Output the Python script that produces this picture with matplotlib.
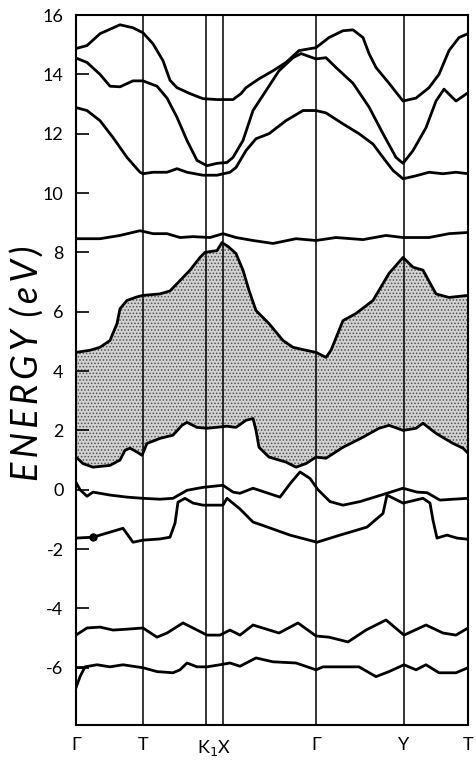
import matplotlib
matplotlib.use("Agg")
import matplotlib.pyplot as plt
import numpy as np

plt.rcParams['font.family'] = ['Lato', 'DejaVu Sans']
plt.rcParams['hatch.linewidth'] = 0.7

# high symmetry points along the k path (arbitrary path units)
kpts = [0, 67, 130, 147, 240, 328, 392]

# bands: (k, E in eV)
band_a = [(0, 14.87), (11, 14.97), (24, 15.37), (44, 15.67), (57, 15.57), (67, 15.4),
          (77, 15.03), (87, 14.46), (94, 13.8), (101, 13.55), (114, 13.35), (127, 13.18),
          (141, 13.15), (157, 13.15), (165, 13.35), (170, 13.55), (183, 13.85), (197, 14.12),
          (210, 14.4), (223, 14.8), (240, 14.9), (253, 15.24), (267, 15.47), (277, 15.5),
          (287, 15.24), (293, 14.7), (300, 14.23), (313, 13.7), (327, 13.1), (340, 13.2),
          (353, 13.55), (363, 14.0), (373, 14.8), (383, 15.24), (392, 15.37)]
band_b = [(0, 14.55), (11, 14.4), (24, 14.0), (34, 13.6), (44, 13.58), (57, 13.78),
          (67, 13.78), (81, 13.6), (91, 13.2), (101, 12.55), (111, 11.77), (121, 11.1),
          (131, 10.92), (141, 11.0), (151, 11.03), (157, 11.2), (167, 11.77), (177, 12.78),
          (190, 13.45), (203, 14.12), (217, 14.56), (225, 14.7), (240, 14.52), (250, 14.56),
          (260, 14.23), (277, 13.7), (293, 12.9), (307, 12.0), (320, 11.2), (327, 11.0),
          (337, 11.43), (350, 12.2), (360, 13.1), (368, 13.5), (380, 13.1), (392, 13.38)]
band_c = [(0, 12.88), (11, 12.78), (24, 12.44), (37, 11.87), (51, 11.2), (64, 10.7),
          (67, 10.65), (77, 10.7), (91, 10.7), (101, 10.82), (111, 10.7), (127, 10.6),
          (141, 10.6), (154, 10.7), (160, 10.86), (170, 11.43), (180, 11.83), (193, 12.0),
          (210, 12.44), (227, 12.78), (240, 12.78), (250, 12.7), (267, 12.33), (283, 12.0),
          (297, 11.65), (307, 11.2), (317, 10.76), (327, 10.48), (340, 10.58), (353, 10.7),
          (367, 10.65), (380, 10.7), (392, 10.65)]
band_d = [(0, 8.46), (24, 8.46), (44, 8.57), (64, 8.73), (77, 8.63), (91, 8.63),
          (104, 8.5), (117, 8.53), (134, 8.5), (147, 8.63), (160, 8.5), (177, 8.4),
          (197, 8.3), (220, 8.46), (240, 8.4), (260, 8.5), (287, 8.43), (310, 8.57),
          (327, 8.5), (353, 8.5), (373, 8.63), (392, 8.67)]
band_e = [(0, 4.63), (14, 4.7), (24, 4.8), (34, 5.03), (41, 5.6), (44, 6.1), (51, 6.38),
          (61, 6.5), (67, 6.55), (84, 6.6), (94, 6.7), (104, 7.05), (114, 7.4), (124, 7.83),
          (129, 8.0), (141, 8.06), (146, 8.33), (152, 8.2), (160, 7.96), (167, 7.4),
          (173, 6.72), (180, 6.04), (193, 5.6), (207, 5.03), (217, 4.8), (230, 4.7),
          (240, 4.63), (250, 4.46), (255, 4.7), (267, 5.7), (280, 5.94), (297, 6.38),
          (313, 7.29), (327, 7.83), (337, 7.5), (347, 7.4), (360, 6.6), (373, 6.48),
          (392, 6.55)]
band_f = [(0, 1.1), (7, 0.88), (17, 0.76), (34, 0.82), (44, 1.0), (49, 1.33), (54, 1.4),
          (61, 1.27), (66, 1.16), (71, 1.56), (84, 1.73), (97, 1.84), (106, 2.17),
          (111, 2.27), (121, 2.1), (131, 2.07), (151, 2.14), (160, 2.1), (170, 2.34),
          (177, 2.4), (180, 2.0), (183, 1.43), (193, 1.1), (210, 0.93), (220, 0.76),
          (230, 0.88), (240, 1.1), (250, 1.06), (267, 1.43), (287, 1.77), (303, 2.07),
          (313, 2.17), (327, 2.0), (340, 2.07), (347, 2.24), (360, 1.9), (377, 1.56),
          (387, 1.4), (392, 1.23)]
band_g = [(0, 0.25), (4, 0.0), (11, -0.22), (17, -0.08), (34, -0.18), (51, -0.25),
          (67, -0.29), (84, -0.32), (97, -0.29), (111, -0.02), (127, 0.08), (147, 0.15),
          (157, -0.08), (164, -0.12), (177, 0.05), (204, -0.25), (214, 0.2), (224, 0.6),
          (234, 0.38), (242, 0.0), (254, -0.4), (267, -0.52), (284, -0.4), (311, -0.12),
          (327, 0.05), (341, -0.08), (351, -0.1), (364, -0.35), (377, -0.32), (392, -0.29)]
band_i = [(0, -1.63), (17, -1.6), (34, -1.43), (47, -1.3), (57, -1.77), (67, -1.7),
          (84, -1.66), (94, -1.6), (99, -1.13), (102, -0.42), (109, -0.29), (117, -0.45),
          (127, -0.52), (147, -0.52), (151, -0.29), (164, -0.65), (177, -1.09), (184, -1.17),
          (214, -1.53), (241, -1.77), (264, -1.53), (291, -1.26), (307, -0.8), (311, -0.18),
          (321, -0.35), (327, -0.45), (347, -0.29), (354, -0.45), (357, -1.03), (361, -1.63),
          (371, -1.53), (381, -1.63), (392, -1.67)]
band_j = [(0, -4.9), (11, -4.66), (24, -4.63), (37, -4.73), (51, -4.7), (67, -4.66),
          (81, -4.97), (91, -4.83), (107, -4.49), (117, -4.66), (131, -4.9), (144, -4.9),
          (154, -4.73), (164, -4.9), (177, -4.56), (203, -4.83), (222, -4.49), (240, -4.93),
          (253, -4.97), (272, -5.13), (290, -4.73), (310, -4.39), (328, -4.9), (350, -4.56),
          (367, -4.83), (380, -4.9), (392, -4.66)]
band_k = [(0, -6.68), (4, -6.3), (9, -5.97), (21, -5.9), (34, -5.97), (47, -5.9),
          (67, -6.0), (81, -6.13), (97, -6.17), (104, -6.07), (111, -5.84), (121, -5.97),
          (131, -5.97), (144, -5.9), (154, -5.84), (164, -5.95), (180, -5.67), (197, -5.8),
          (220, -5.84), (240, -6.07), (247, -5.97), (283, -5.97), (300, -6.3), (313, -6.13),
          (328, -5.9), (340, -6.07), (350, -5.9), (363, -6.17), (380, -6.17), (392, -6.0)]
band_k2 = [(0, -5.97), (9, -5.97)]
dot = (17, -1.6)

yticks = [-6, -4, -2, 0, 2, 4, 6, 8, 10, 12, 14, 16]

fig = plt.figure(figsize=(4.76, 7.64), dpi=100)
ax = fig.add_axes([76 / 476, 1 - 725 / 764, 392 / 476, 710 / 764])

# shaded gap region between bands e and f
ke, ee = np.array(band_e).T
kf, ef = np.array(band_f).T
ax.fill(np.r_[ke, kf[::-1]], np.r_[ee, ef[::-1]], facecolor='#d2d2d2',
        edgecolor='#505050', hatch='.....', linewidth=0, zorder=1)

for b in [band_a, band_b, band_c, band_d, band_e, band_f, band_g, band_i,
          band_j, band_k, band_k2]:
    k, e = np.array(b).T
    ax.plot(k, e, color='black', lw=2.0, solid_capstyle='round',
            solid_joinstyle='round', zorder=3)
ax.plot(dot[0], dot[1], 'o', color='black', ms=5, zorder=4)

for kp in kpts:
    ax.axvline(kp, color='black', lw=1.1, zorder=2)

ax.set_xlim(0, 392)
ax.set_ylim(-7.93, 15.98)
ax.set_yticks(yticks)
ax.set_yticklabels([str(t) for t in yticks])
ax.tick_params(axis='y', direction='in', length=9.5, width=1.2, pad=9, labelsize=13)
ax.set_xticks([0, 67, 138.5, 240, 328, 392])
ax.set_xticklabels(['Γ', 'T', 'K$_1$X', 'Γ', 'Y', 'T'])
ax.tick_params(axis='x', length=0, pad=9, labelsize=13)
for s in ax.spines.values():
    s.set_linewidth(1.5)

fig.text(0.057, 0.525, 'E\u2009N\u2009E\u2009R\u2009G\u2009Y\u2009 (\u2009e\u2009V\u2009)',
         rotation=90, fontsize=26, style='italic', fontweight='normal',
         ha='center', va='center', color='black')

fig.savefig('out.png', dpi=100)
